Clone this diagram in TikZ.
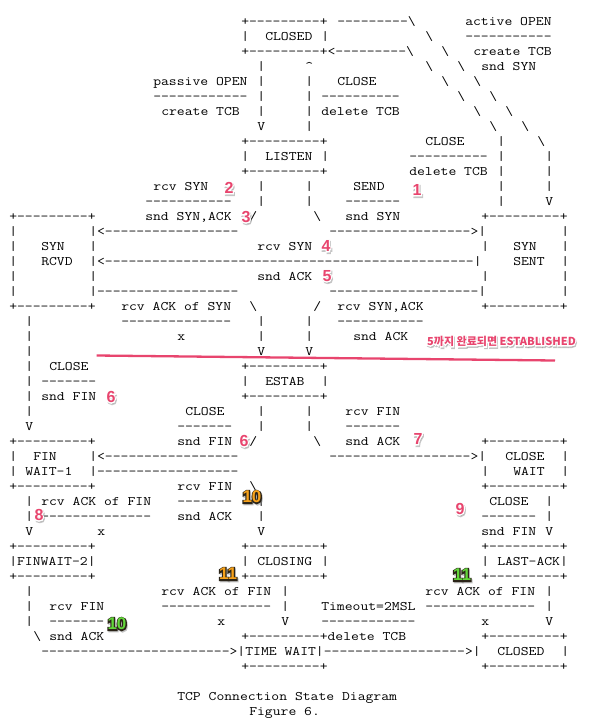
\documentclass[tikz,border=0pt]{standalone}
\usepackage{fontspec}
\newfontfamily\bdgfont{Liberation Sans}
\newfontfamily\bdgfat{Liberation Sans}[FakeBold=14]
\newfontfamily\krfont{Noto Sans CJK KR}
\newfontfamily\krfat{Noto Sans CJK KR}[FakeBold=18]
\definecolor{pinkred}{HTML}{E8456E}
\definecolor{orng}{HTML}{F7A21B}
\definecolor{grn}{HTML}{62D63A}
\definecolor{darkedge}{HTML}{2B2418}
\ExplSyntaxOn
\NewDocumentCommand\dd{m}{\prg_replicate:nn{#1}{\mbox{-}}}
\ExplSyntaxOff
\newcommand\bs{\textbackslash}
\newcommand\ca{\textasciicircum}
\newcounter{sg}
\tikzset{
  seg/.style={anchor=base west, inner sep=0pt, outer sep=0pt, font=\fontsize{13}{15}\selectfont\ttfamily\frenchspacing},
  smallbdg/.style={inner sep=0pt, outer sep=0pt, font=\fontsize{16}{18}\selectfont\bdgfont\bfseries},
  smallbdgfat/.style={inner sep=0pt, outer sep=0pt, font=\fontsize{16}{18}\selectfont\bdgfat\bfseries},
  bigbdg/.style={inner sep=0pt, outer sep=0pt, font=\fontsize{17}{19}\selectfont\bdgfont\bfseries},
  bigbdgfat/.style={inner sep=0pt, outer sep=0pt, font=\fontsize{17}{19}\selectfont\bdgfat\bfseries},
  krtxt/.style={inner sep=0pt, outer sep=0pt, anchor=base, font=\fontsize{11}{13}\selectfont\krfont\bfseries},
  krfattxt/.style={inner sep=0pt, outer sep=0pt, anchor=base, font=\fontsize{11}{13}\selectfont\krfat\bfseries},
}
\newcommand\seg[3]{\stepcounter{sg}\node[seg] (s\arabic{sg}) at ({1.3pt+8pt*#1},{-25pt-15pt*#2}) {\scalebox{1.1722}[1]{#3}};}
% badge: name, x, y, text, style, fill, edge
\newcommand\badge[7]{%
  \node[#5fat, text=black!50, opacity=0.45] (#1sh) at ({#2pt+0.9pt},{-#3pt-1.4pt}) {#4};
  \node[#5fat, text=#7] (#1o) at ({#2pt},{-#3pt}) {#4};
  \node[#5, text=#6] (#1) at ({#2pt},{-#3pt}) {#4};
}
\begin{document}
\begin{tikzpicture}
\fill[white] (0,0) rectangle (603pt,-724pt);
\useasboundingbox (0,0) rectangle (603pt,-724pt);
\seg{30}{0}{+\dd9+}\seg{42}{0}{\dd9\bs}\seg{58}{0}{active OPEN}
\seg{30}{1}{|}\seg{33}{1}{CLOSED}\seg{40}{1}{|}\seg{53}{1}{\bs}\seg{58}{1}{\dd{11}}
\seg{30}{2}{+\dd9+<\dd9\bs}\seg{55}{2}{\bs}\seg{59}{2}{create TCB}
\seg{32}{3}{|}\seg{38}{3}{\ca}\seg{53}{3}{\bs}\seg{57}{3}{\bs}\seg{60}{3}{snd SYN}
\seg{19}{4}{passive OPEN}\seg{32}{4}{|}\seg{38}{4}{|}\seg{42}{4}{CLOSE}\seg{55}{4}{\bs}\seg{59}{4}{\bs}
\seg{19}{5}{\dd{12}}\seg{32}{5}{|}\seg{38}{5}{|}\seg{40}{5}{\dd{10}}\seg{57}{5}{\bs}\seg{61}{5}{\bs}
\seg{20}{6}{create TCB}\seg{32}{6}{|}\seg{38}{6}{|}\seg{40}{6}{delete TCB}\seg{59}{6}{\bs}\seg{63}{6}{\bs}
\seg{32}{7}{V}\seg{38}{7}{|}\seg{61}{7}{\bs}\seg{65}{7}{\bs}
\seg{30}{8}{+\dd9+}\seg{53}{8}{CLOSE}\seg{62}{8}{|}\seg{67}{8}{\bs}
\seg{30}{9}{|}\seg{33}{9}{LISTEN}\seg{40}{9}{|}\seg{51}{9}{\dd{10}}\seg{62}{9}{|}\seg{68}{9}{|}
\seg{30}{10}{+\dd9+}\seg{51}{10}{delete TCB}\seg{62}{10}{|}\seg{68}{10}{|}
\seg{19}{11}{rcv SYN}\seg{32}{11}{|}\seg{38}{11}{|}\seg{44}{11}{SEND}\seg{62}{11}{|}\seg{68}{11}{|}
\seg{18}{12}{\dd{11}}\seg{32}{12}{|}\seg{38}{12}{|}\seg{43}{12}{\dd7}\seg{62}{12}{|}\seg{68}{12}{V}
\seg{1}{13}{+\dd9+}\seg{18}{13}{snd SYN,ACK}\seg{31}{13}{/}\seg{39}{13}{\bs}\seg{43}{13}{snd SYN}\seg{60}{13}{+\dd9+}
\seg{1}{14}{|}\seg{11}{14}{|<\dd{17}}\seg{41}{14}{\dd{18}>|}\seg{70}{14}{|}
\seg{1}{15}{|}\seg{5}{15}{SYN}\seg{11}{15}{|}\seg{32}{15}{rcv SYN}\seg{60}{15}{|}\seg{64}{15}{SYN}\seg{70}{15}{|}
\seg{1}{16}{|}\seg{5}{16}{RCVD}\seg{11}{16}{|<\dd{47}|}\seg{64}{16}{SENT}\seg{70}{16}{|}
\seg{1}{17}{|}\seg{11}{17}{|}\seg{32}{17}{snd ACK}\seg{60}{17}{|}\seg{70}{17}{|}
\seg{1}{18}{|}\seg{11}{18}{|\dd{18}}\seg{41}{18}{\dd{19}|}\seg{70}{18}{|}
\seg{1}{19}{+\dd9+}\seg{15}{19}{rcv ACK of SYN}\seg{31}{19}{\bs}\seg{39}{19}{/}\seg{42}{19}{rcv SYN,ACK}\seg{60}{19}{+\dd9+}
\seg{3}{20}{|}\seg{15}{20}{\dd{14}}\seg{32}{20}{|}\seg{38}{20}{|}\seg{42}{20}{\dd{11}}
\seg{3}{21}{|}\seg{22}{21}{x}\seg{32}{21}{|}\seg{38}{21}{|}\seg{44}{21}{snd ACK}
\seg{3}{22}{|}\seg{32}{22}{V}\seg{38}{22}{V}
\seg{3}{23}{|}\seg{6}{23}{CLOSE}\seg{30}{23}{+\dd9+}
\seg{3}{24}{|}\seg{5}{24}{\dd7}\seg{30}{24}{|}\seg{33}{24}{ESTAB}\seg{40}{24}{|}
\seg{3}{25}{|}\seg{5}{25}{snd FIN}\seg{30}{25}{+\dd9+}
\seg{3}{26}{|}\seg{23}{26}{CLOSE}\seg{32}{26}{|}\seg{38}{26}{|}\seg{43}{26}{rcv FIN}
\seg{3}{27}{V}\seg{22}{27}{\dd7}\seg{32}{27}{|}\seg{38}{27}{|}\seg{43}{27}{\dd7}
\seg{1}{28}{+\dd9+}\seg{22}{28}{snd FIN}\seg{31}{28}{/}\seg{39}{28}{\bs}\seg{43}{28}{snd ACK}\seg{60}{28}{+\dd9+}
\seg{1}{29}{|}\seg{4}{29}{FIN}\seg{11}{29}{|<\dd{17}}\seg{41}{29}{\dd{18}>|}\seg{63}{29}{CLOSE}\seg{70}{29}{|}
\seg{1}{30}{|}\seg{3}{30}{WAIT-1}\seg{11}{30}{|\dd{18}}\seg{60}{30}{|}\seg{64}{30}{WAIT}\seg{70}{30}{|}
\seg{1}{31}{+\dd9+}\seg{22}{31}{rcv FIN}\seg{31}{31}{\bs}\seg{60}{31}{+\dd9+}
\seg{3}{32}{|}\seg{5}{32}{rcv ACK of FIN}\seg{22}{32}{\dd7}\seg{32}{32}{|}\seg{61}{32}{CLOSE}\seg{68}{32}{|}
\seg{3}{33}{|}\seg{5}{33}{\dd{14}}\seg{22}{33}{snd ACK}\seg{32}{33}{|}\seg{60}{33}{\dd7}\seg{68}{33}{|}
\seg{3}{34}{V}\seg{12}{34}{x}\seg{32}{34}{V}\seg{60}{34}{snd FIN}\seg{68}{34}{V}
\seg{1}{35}{+\dd9+}\seg{30}{35}{+\dd9+}\seg{60}{35}{+\dd9+}
\seg{1}{36}{|FINWAIT-2|}\seg{30}{36}{|}\seg{32}{36}{CLOSING}\seg{40}{36}{|}\seg{60}{36}{|}\seg{62}{36}{LAST-ACK|}
\seg{1}{37}{+\dd9+}\seg{30}{37}{+\dd9+}\seg{60}{37}{+\dd9+}
\seg{3}{38}{|}\seg{20}{38}{rcv ACK of FIN}\seg{35}{38}{|}\seg{53}{38}{rcv ACK of FIN}\seg{68}{38}{|}
\seg{3}{39}{|}\seg{6}{39}{rcv FIN}\seg{20}{39}{\dd{14}}\seg{35}{39}{|}\seg{40}{39}{Timeout=2MSL}\seg{53}{39}{\dd{14}}\seg{68}{39}{|}
\seg{3}{40}{|}\seg{6}{40}{\dd7}\seg{27}{40}{x}\seg{35}{40}{V}\seg{40}{40}{\dd{12}}\seg{60}{40}{x}\seg{68}{40}{V}
\seg{4}{41}{\bs}\seg{6}{41}{snd ACK}\seg{30}{41}{+\dd9+delete TCB}\seg{60}{41}{+\dd9+}
\seg{5}{42}{\dd{24}>|TIME WAIT|\dd{18}>|}\seg{62}{42}{CLOSED}\seg{70}{42}{|}
\seg{30}{43}{+\dd9+}\seg{60}{43}{+\dd9+}
\seg{22}{45}{TCP Connection State Diagram}
\seg{31}{46}{Figure 6.}
% red line
\coordinate (rl1) at (96.7pt,-355.5pt);
\coordinate (rl2) at (555pt,-360.5pt);
\draw[pinkred, line width=2.3pt] (rl1) -- (rl2);
% korean note
\node[krfattxt, text=black!50, opacity=0.45] (krsh) at (502.3pt,-347pt) {5까지 완료되면 ESTABLISHED};
\node[krfattxt, text=white] (kro) at (501.5pt,-345.7pt) {5까지 완료되면 ESTABLISHED};
\node[krtxt, text=pinkred] (kr) at (501.5pt,-345.7pt) {5까지 완료되면 ESTABLISHED};
% badges
\badge{bA}{229}{188}{2}{smallbdg}{pinkred}{white}
\badge{bB}{417}{190}{1}{smallbdg}{pinkred}{white}
\badge{bC}{246}{217}{3}{smallbdg}{pinkred}{white}
\badge{bD}{326}{246}{4}{smallbdg}{pinkred}{white}
\badge{bE}{327}{276}{5}{smallbdg}{pinkred}{white}
\badge{bF}{111}{397}{6}{smallbdg}{pinkred}{white}
\badge{bG}{244}{441}{6}{smallbdg}{pinkred}{white}
\badge{bH}{418}{439}{7}{smallbdg}{pinkred}{white}
\badge{bI}{39}{515}{8}{smallbdg}{pinkred}{white}
\badge{bJ}{460}{509}{9}{smallbdg}{pinkred}{white}
\badge{bK}{252}{497}{10}{bigbdg}{orng}{darkedge}
\badge{bL}{117}{624}{10}{bigbdg}{grn}{darkedge}
\badge{bM}{228}{574}{11}{bigbdg}{orng}{darkedge}
\badge{bN}{462}{575}{11}{bigbdg}{grn}{darkedge}
\end{tikzpicture}
\end{document}
